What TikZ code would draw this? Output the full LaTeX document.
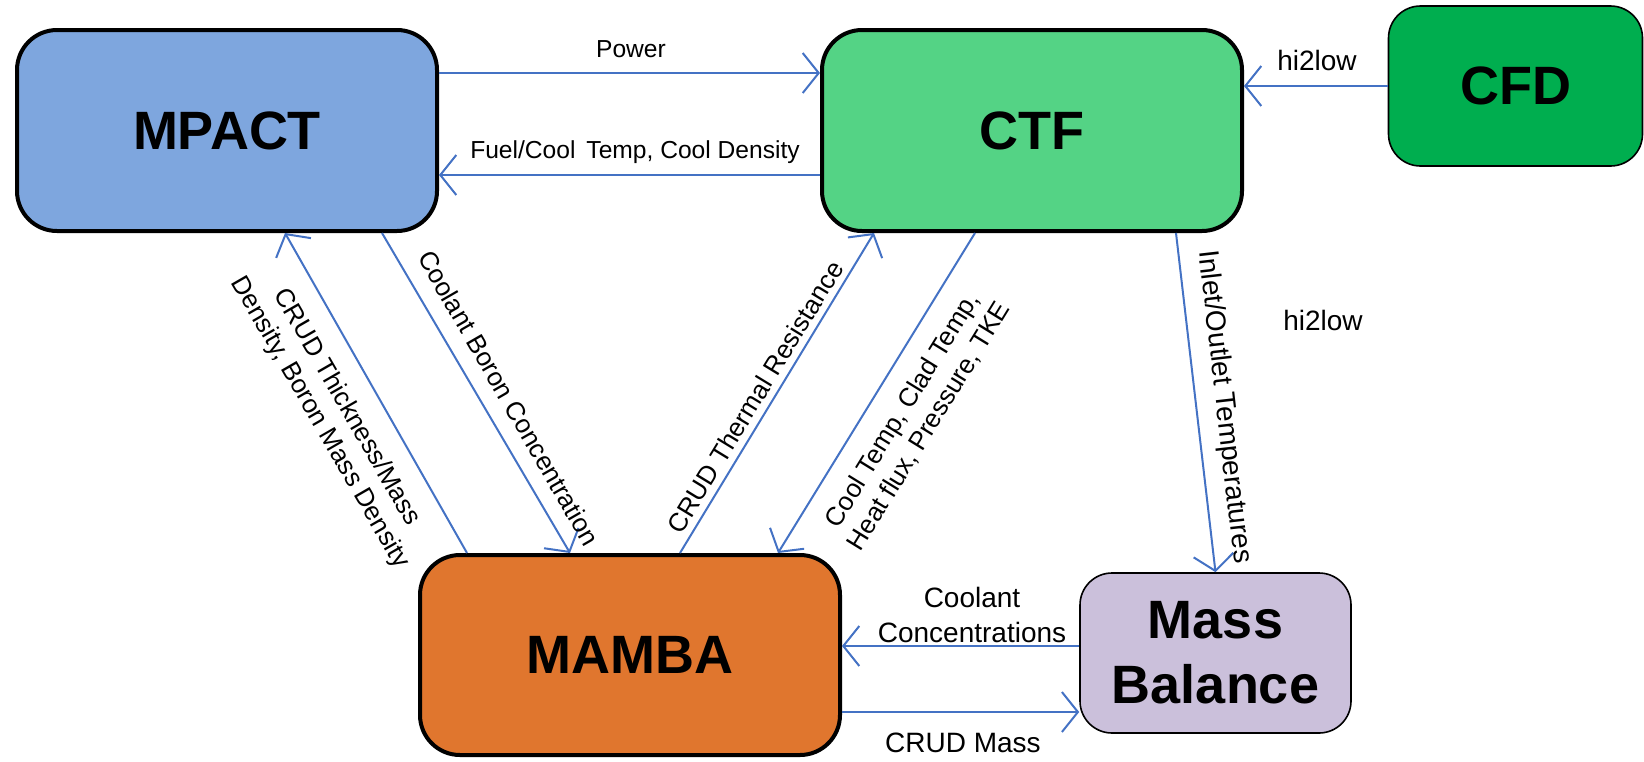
\documentclass[tikz,border=0pt]{standalone}
\usepackage{fontspec}
\setmainfont{Liberation Sans}
\usepackage{tikz}
\usetikzlibrary{arrows.meta,positioning}

\definecolor{mpactblue}{RGB}{126,166,222}
\definecolor{ctfgreen}{RGB}{84,211,133}
\definecolor{cfdgreen}{RGB}{0,174,79}
\definecolor{mambaorange}{RGB}{224,118,46}
\definecolor{masslilac}{RGB}{203,192,219}
\definecolor{linkblue}{RGB}{68,114,196}

\tikzset{
	code/.style={draw=black,line width=2pt,rounded corners=20pt,font=\fontsize{27}{32.5}\selectfont\bfseries,align=center},
	smallcode/.style={draw=black,line width=0.8pt,rounded corners=16pt,font=\fontsize{27}{32.5}\selectfont\bfseries,align=center},
	link/.style={draw=linkblue,line width=1pt,-{Straight Barb[length=8pt,width=20pt,line width=1pt]}},
	lbl/.style={font=\fontsize{12.3}{15}\selectfont,inner sep=0pt},
	dlbl/.style={font=\fontsize{13}{15.5}\selectfont,inner sep=0pt,align=center},
	blbl/.style={font=\fontsize{14}{17.5}\selectfont,inner sep=0pt,align=center}
}

\begin{document}
\begin{tikzpicture}[x=0.5pt,y=-0.5pt]
	\useasboundingbox (0,0) rectangle (1644,761);
	\node[code,fill=mpactblue,minimum width=210pt,minimum height=100.5pt] (mpact) at (227,130.5) {MPACT};
	\node[code,fill=ctfgreen,minimum width=210pt,minimum height=100.5pt] (ctf) at (1032,130.5) {CTF};
	\node[smallcode,fill=cfdgreen,minimum width=127pt,minimum height=80pt] (cfd) at (1515.5,86) {CFD};
	\node[code,fill=mambaorange,minimum width=210pt,minimum height=100pt] (mamba) at (630,655) {MAMBA};
	\node[smallcode,fill=masslilac,minimum width=135.5pt,minimum height=80pt] (massbal) at (1215.5,653) {Mass\\Balance};

	\draw[link] ([yshift=28.75pt]mpact.east) -- ([yshift=28.75pt]ctf.west);
	\draw[link] ([yshift=-22.25pt]ctf.west) -- ([yshift=-22.25pt]mpact.east);
	\draw[link] (cfd.west) -- (cfd.west -| ctf.east);
	\draw[link] ([xshift=-81.5pt]mamba.north) -- ([xshift=29pt]mpact.south);
	\draw[link] ([xshift=77.5pt]mpact.south) -- ([xshift=-30pt]mamba.north);
	\draw[link] ([xshift=25pt]mamba.north) -- ([xshift=-79pt]ctf.south);
	\draw[link] ([xshift=-28.5pt]ctf.south) -- ([xshift=74pt]mamba.north);
	\draw[link] ([xshift=72pt]ctf.south) -- (massbal.north);
	\draw[link] ([yshift=3.5pt]massbal.west) -- ([yshift=3.5pt]massbal.west -| mamba.east);
	\draw[link] ([yshift=-28.5pt]mamba.east) -- ([yshift=-28.5pt]mamba.east -| massbal.west);

	\node[lbl] (power) at (631,49) {Power};
	\node[lbl] (fuelcool) at (635,152) {Fuel/Cool\, Temp, Cool Density};
	\node[blbl] (hitop) at (1317,60) {hi2low};
	\node[blbl] (himid) at (1323,320) {hi2low};
	\node[dlbl,rotate=-60] (crudthick) at (333,415) {CRUD Thickness/Mass\\Density, Boron Mass Density};
	\node[dlbl,rotate=-60] (boron) at (509,398) {Coolant Boron Concentration};
	\node[dlbl,rotate=58.6] (resist) at (755,397) {CRUD Thermal Resistance};
	\node[dlbl,rotate=58.4] (cooltemp) at (916,418) {Cool Temp, Clad Temp,\\Heat flux, Pressure, TKE};
	\node[blbl,rotate=-83.5] (inlet) at (1224,407) {Inlet/Outlet Temperatures};
	\node[blbl] (coolconc) at (972,615) {Coolant\\Concentrations};
	\node[blbl] (crudmass) at (963,743) {CRUD Mass};
\end{tikzpicture}
\end{document}
